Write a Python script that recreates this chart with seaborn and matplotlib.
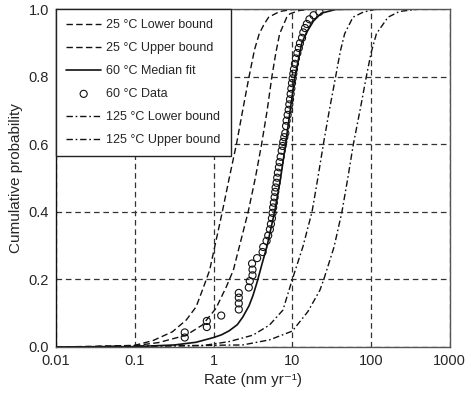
import matplotlib
matplotlib.use("Agg")
import matplotlib.pyplot as plt
import seaborn as sns

# curves: rate (nm/yr) and cumulative probability
lo25_rate = [0.01, 0.032, 0.1, 0.17, 0.30, 0.45, 0.60, 0.72, 0.89, 1.29, 1.58, 1.95,
             2.34, 2.82, 3.31, 3.80, 4.37, 5.0, 6.9, 10, 20]
lo25_prob = [0, 0.001, 0.005, 0.019, 0.045, 0.080, 0.119, 0.168, 0.227, 0.40, 0.50, 0.60,
             0.70, 0.80, 0.88, 0.927, 0.955, 0.976, 0.993, 0.999, 1.0]

up25_rate = [0.01, 0.1, 0.20, 0.45, 0.72, 1.07, 1.45, 1.78, 2.75, 3.39, 4.07, 4.79,
             5.5, 6.17, 6.9, 8.5, 9.3, 12.3, 18]
up25_prob = [0, 0.004, 0.013, 0.035, 0.065, 0.114, 0.178, 0.227, 0.40, 0.50, 0.60, 0.70,
             0.80, 0.87, 0.927, 0.976, 0.986, 0.996, 1.0]

med60_rate = [0.01, 0.1, 0.32, 0.6, 1.0, 1.26, 1.58, 2.0, 2.34, 2.82, 3.16, 3.55, 4.17,
              4.79, 5.96, 7.1, 8.22, 9.38, 10.8, 13.2, 15.1, 18.6, 23.4, 35.5, 63]
med60_prob = [0, 0.001, 0.006, 0.014, 0.028, 0.036, 0.048, 0.066, 0.088, 0.122, 0.152, 0.19,
              0.25, 0.30, 0.40, 0.50, 0.60, 0.70, 0.80, 0.90, 0.93, 0.965, 0.988, 0.999, 1.0]

data60_rate = [0.43, 0.43, 0.82, 0.82, 1.25, 2.09, 2.09, 2.09, 2.09, 2.80, 2.88, 3.12,
               3.12, 3.08, 3.57, 4.19, 4.27, 4.71, 4.94, 5.19, 5.35, 5.51, 5.62, 5.71,
               5.83, 5.96, 6.07, 6.14, 6.32, 6.43, 6.56, 6.76, 6.90, 7.11, 7.33, 7.53,
               7.67, 7.91, 8.15, 8.32, 8.47, 8.73, 8.99, 9.16, 9.35, 9.53, 9.72, 9.91,
               10.1, 10.3, 10.5, 10.8, 11.1, 11.6, 12.1, 12.5, 13.3, 13.8, 14.5, 15.3,
               16.5, 18.6, 22.1]
data60_prob = [0.028, 0.043, 0.059, 0.077, 0.093, 0.111, 0.129, 0.146, 0.160, 0.176, 0.195, 0.212,
               0.229, 0.247, 0.263, 0.281, 0.296, 0.314, 0.330, 0.348, 0.364, 0.381, 0.397, 0.413,
               0.427, 0.443, 0.459, 0.472, 0.486, 0.501, 0.516, 0.532, 0.547, 0.563, 0.581, 0.595,
               0.607, 0.621, 0.633, 0.654, 0.670, 0.687, 0.702, 0.718, 0.733, 0.749, 0.765, 0.781,
               0.795, 0.809, 0.822, 0.838, 0.854, 0.870, 0.885, 0.899, 0.915, 0.931, 0.944, 0.956,
               0.970, 0.982, 0.992]

lo125_rate = [0.01, 0.72, 1.58, 3.16, 5.13, 7.59, 10.0, 13.6, 17.8, 21.1, 24.8, 29.5,
              35.5, 40.7, 46.2, 58.9, 79.4, 112, 200]
lo125_prob = [0, 0.004, 0.016, 0.035, 0.065, 0.109, 0.20, 0.296, 0.40, 0.50, 0.60, 0.70,
              0.80, 0.875, 0.927, 0.976, 0.991, 0.999, 1.0]

up125_rate = [0.01, 2.34, 5.13, 10, 15.8, 22.4, 25.1, 33.9, 42.7, 50.7, 59.6, 72.4,
              87.1, 100, 117, 164, 229, 398]
up125_prob = [0, 0.006, 0.021, 0.047, 0.105, 0.168, 0.20, 0.296, 0.40, 0.50, 0.60, 0.70,
              0.80, 0.87, 0.927, 0.976, 0.993, 1.0]

x_ticks = [0.01, 0.1, 1, 10, 100, 1000]
x_ticklabels = ["0.01", "0.1", "1", "10", "100", "1000"]
y_ticks = [0.0, 0.2, 0.4, 0.6, 0.8, 1.0]

sns.set_style("white")
plt.rcParams['font.family'] = ['Liberation Sans', 'DejaVu Sans']

fig = plt.figure(figsize=(4.68, 3.97), dpi=100)
ax = fig.add_axes([0.12, 0.126, 0.841, 0.851])

dash = (4.6, 2.4)
dashdot = (4.6, 2.0, 1.2, 2.0)
ink = "#111111"

sns.lineplot(x=lo25_rate, y=lo25_prob, ax=ax, color=ink, lw=1,
             label="25 \u00b0C Lower bound").lines[-1].set_dashes(dash)
sns.lineplot(x=up25_rate, y=up25_prob, ax=ax, color=ink, lw=1,
             label="25 \u00b0C Upper bound").lines[-1].set_dashes(dash)
sns.lineplot(x=med60_rate, y=med60_prob, ax=ax, color=ink, lw=1.2,
             label="60 \u00b0C Median fit")
sns.scatterplot(x=data60_rate, y=data60_prob, ax=ax, marker="o", s=26,
                facecolors="none", edgecolor=ink, linewidth=0.8,
                label="60 \u00b0C Data")
sns.lineplot(x=lo125_rate, y=lo125_prob, ax=ax, color=ink, lw=1,
             label="125 \u00b0C Lower bound").lines[-1].set_dashes(dashdot)
sns.lineplot(x=up125_rate, y=up125_prob, ax=ax, color=ink, lw=1,
             label="125 \u00b0C Upper bound").lines[-1].set_dashes(dashdot)

ax.set_xscale("log")
ax.set_xlim(0.01, 1000)
ax.set_ylim(0, 1)
ax.set_xticks(x_ticks)
ax.set_xticklabels(x_ticklabels)
ax.set_yticks(y_ticks)
ax.set_yticklabels([f"{v:.1f}" for v in y_ticks])
ax.minorticks_off()
ax.tick_params(labelsize=10.5, direction="in", length=3, color="#444444", pad=5)

ax.grid(True, which="major", color="#333333", lw=0.9, linestyle=(0, (4.5, 3)))
for side, sp in ax.spines.items():
    sp.set_color("#555555")
    sp.set_linewidth(1)
ax.spines["left"].set_color("#111111")

ax.set_xlabel("Rate (nm yr\u207b\u00b9)", fontsize=11)
ax.set_ylabel("Cumulative probability", fontsize=11)

leg = ax.legend(loc="upper left", borderaxespad=0, fontsize=9, frameon=True,
                fancybox=False, handlelength=2.8, handletextpad=0.4,
                labelspacing=0.88, borderpad=0.8, scatterpoints=1)
leg.get_frame().set_edgecolor("#222222")
leg.get_frame().set_linewidth(1)
leg.get_frame().set_alpha(1)

fig.savefig("out.png", dpi=100)
